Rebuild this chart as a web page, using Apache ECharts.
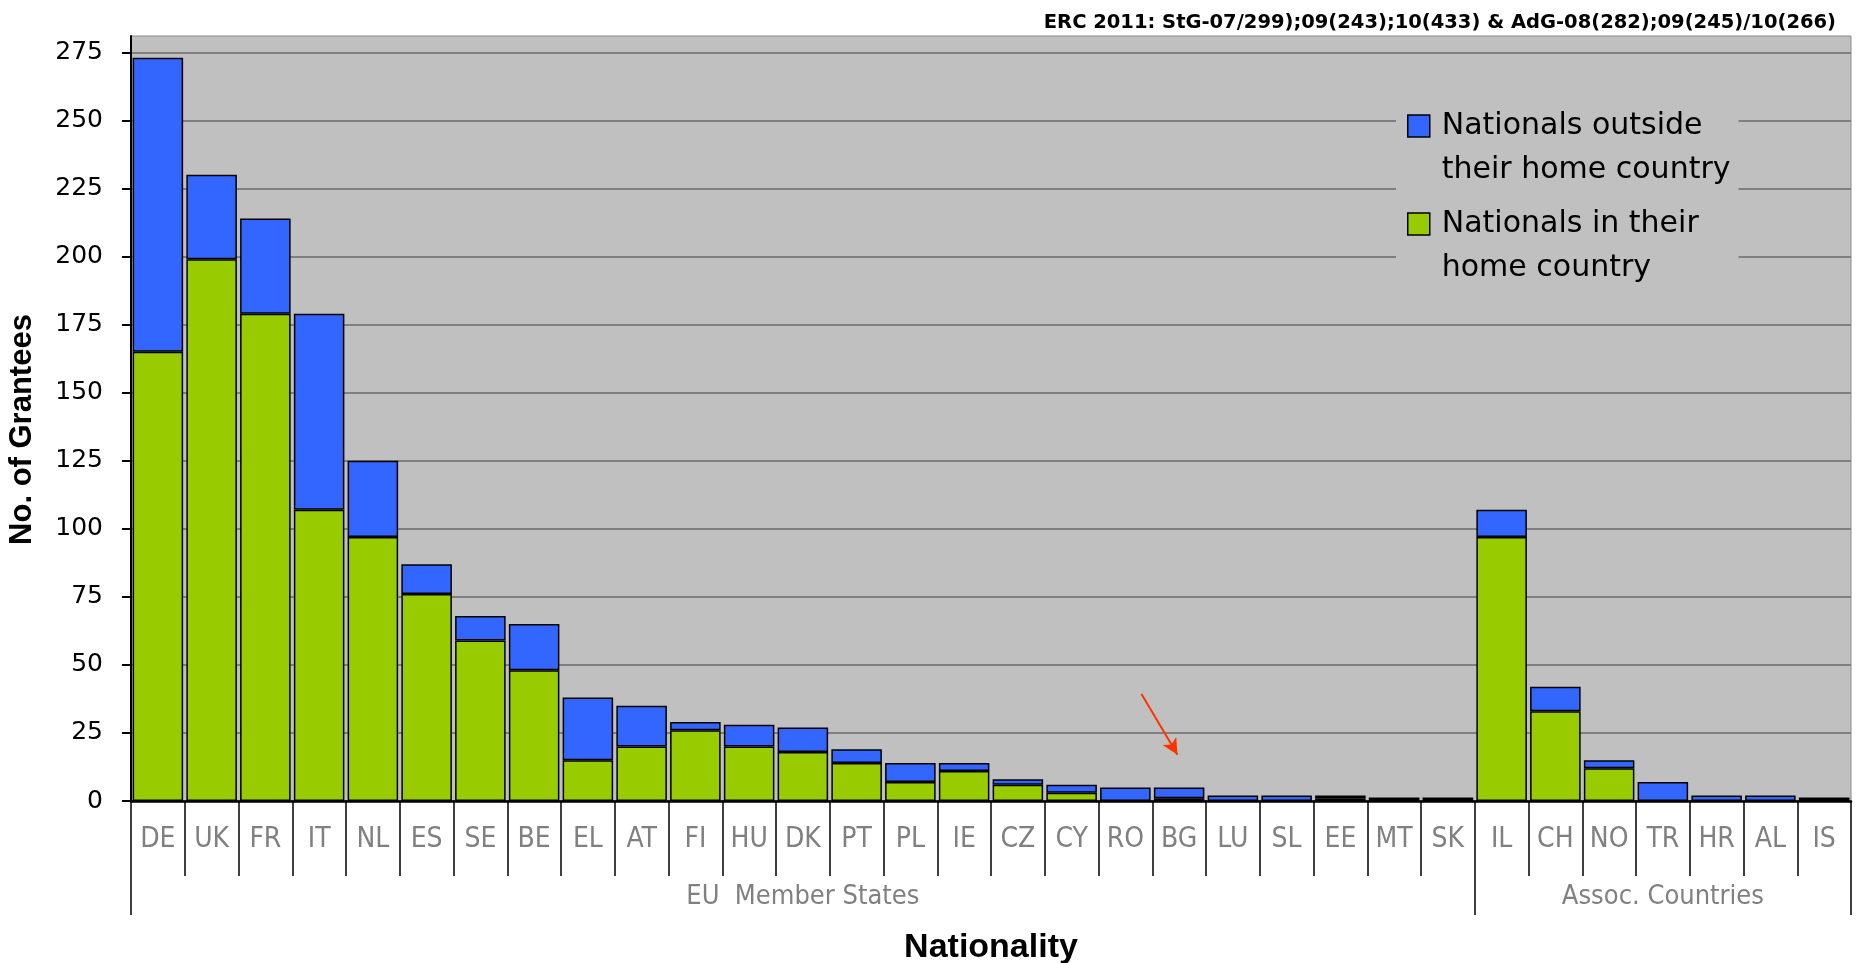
<!DOCTYPE html>
<html>
<head>
<meta charset="utf-8">
<script src="https://cdn.jsdelivr.net/npm/echarts@6/dist/echarts.min.js"></script>
<style>
html,body{margin:0;padding:0;background:#fff;}
#chart{width:1868px;height:963px;}
</style>
</head>
<body>
<div id="chart"></div>
<script>
var categories = ['DE','UK','FR','IT','NL','ES','SE','BE','EL','AT','FI','HU','DK','PT','PL','IE','CZ','CY','RO','BG','LU','SL','EE','MT','SK','IL','CH','NO','TR','HR','AL','IS'];
var inHome  = [165,199,179,107,97,76,59,48,15,20,26,20,18,14,7,11,6,3,0,1,0,0,1,1,1,97,33,12,0,0,0,1];
var outside = [108,31,35,72,28,11,9,17,23,15,3,8,9,5,7,3,2,3,5,4,2,2,1,0,0,10,9,3,7,2,2,0];
var yTicks = [0,25,50,75,100,125,150,175,200,225,250,275];
var groups = [
  {name:'EU  Member States', first:0, last:24},
  {name:'Assoc. Countries', first:25, last:31}
];
// arrow annotation, in [category-band position, value] units
var arrowFrom = [18.80, 39.3];
var arrowTo = [19.47, 17];
var titleText = 'ERC 2011: StG-07/299);09(243);10(433) & AdG-08(282);09(245)/10(266)';
var nameOutside = 'Nationals outside\ntheir home country';
var nameHome = 'Nationals in their\nhome country';

var groupStarts = groups.map(function(g){return g.first;});
var groupCenters = {};
groups.forEach(function(g){ groupCenters[Math.floor((g.first + g.last) / 2)] = g.name; });

var chart = echarts.init(document.getElementById('chart'));
chart.setOption({
  backgroundColor:'#ffffff',
  animation:false,
  title:{
    text:titleText, right:27, top:8,
    textStyle:{fontFamily:'DejaVu Sans', fontWeight:'bold', fontSize:19.5, color:'#000'}
  },
  grid:{left:131, right:17, top:36, bottom:162, outerBoundsMode:'none', containLabel:false,
        show:true, backgroundColor:'#C0C0C0', borderWidth:1, borderColor:'#8a8a8a'},
  legend:{
    orient:'vertical', left:1396, top:60,
    data:[nameOutside, nameHome],
    formatter:function(n){ return ' \n' + n; },
    itemWidth:22, itemHeight:22, itemGap:-34,
    backgroundColor:'#C0C0C0',
    padding:[0,8,0,11],
    icon:'rect', selectedMode:false,
    itemStyle:{borderColor:'#000', borderWidth:1.5},
    textStyle:{fontFamily:'DejaVu Sans', fontSize:30, lineHeight:44, color:'#000', padding:[0,0,0,7]}
  },
  xAxis:[{
    type:'category', data:categories, position:'bottom',
    axisLine:{show:true, lineStyle:{color:'#000', width:2.5}},
    axisTick:{show:true, interval:0, length:75, lineStyle:{color:'#000', width:1.5}},
    axisLabel:{interval:0, margin:25, color:'#808080', fontFamily:'DejaVu Sans Condensed, Liberation Sans Narrow, Liberation Sans', fontSize:28},
    splitLine:{show:false},
    name:'Nationality', nameLocation:'middle', nameGap:130,
    nameTextStyle:{fontFamily:'Liberation Sans', fontWeight:'bold', fontSize:34, color:'#000'}
  },{
    type:'category', data:categories, position:'bottom', offset:0,
    axisLine:{show:false},
    axisTick:{show:true, length:114, interval:function(i){return groupStarts.indexOf(i) >= 0;}, lineStyle:{color:'#000', width:1.5}},
    axisLabel:{interval:0, margin:82, color:'#808080', fontFamily:'DejaVu Sans Condensed, Liberation Sans Narrow, Liberation Sans', fontSize:27,
      formatter:function(v, i){ return groupCenters[i] || ''; }},
    splitLine:{show:false}
  },{
    type:'value', min:0, max:categories.length, show:false
  }],
  yAxis:{
    type:'value', min:0, max:281,
    axisLine:{show:true, lineStyle:{color:'#000', width:2}},
    axisTick:{show:true, length:9, customValues:yTicks, lineStyle:{color:'#000', width:2}},
    axisLabel:{customValues:yTicks, margin:28, color:'#000', fontFamily:'DejaVu Sans', fontSize:25},
    splitLine:{show:true, lineStyle:{color:'#808080', width:2}},
    name:'No. of Grantees', nameLocation:'middle', nameGap:93,
    nameTextStyle:{fontFamily:'Liberation Sans', fontWeight:'bold', fontSize:31, color:'#000', padding:[0,22,0,0]}
  },
  series:[{
    name:nameHome, type:'bar', stack:'total', data:inHome, barCategoryGap:'6%',
    itemStyle:{color:'#99CC00', borderColor:'#000', borderWidth:1.5}
  },{
    name:nameOutside, type:'bar', stack:'total', data:outside, barCategoryGap:'6%',
    itemStyle:{color:'#3366FF', borderColor:'#000', borderWidth:1.5}
  },{
    name:'arrow', type:'line', xAxisIndex:2, data:[], silent:true,
    markLine:{
      silent:true, symbol:['none','arrow'], symbolSize:[12,16],
      lineStyle:{color:'#FF3300', width:2, type:'solid'},
      label:{show:false},
      data:[[{coord:arrowFrom},{coord:arrowTo}]]
    }
  }]
});
</script>
</body>
</html>
